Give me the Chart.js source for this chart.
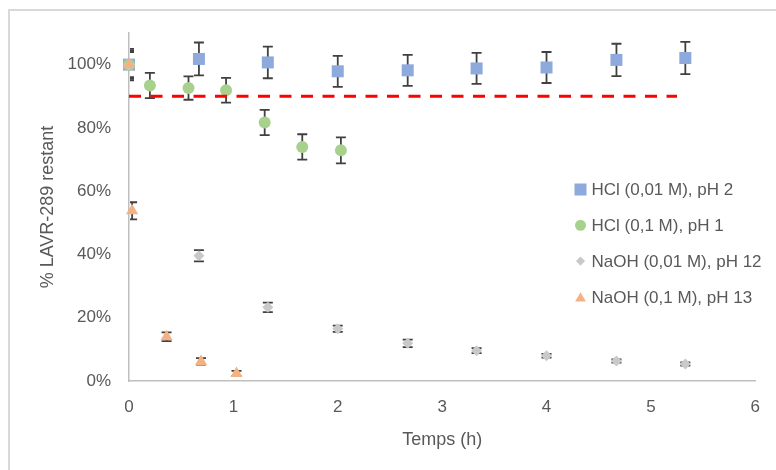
<!DOCTYPE html>
<html><head><meta charset="utf-8">
<script src="https://cdn.jsdelivr.net/npm/chart.js"></script>
<style>
html,body{margin:0;padding:0;background:#fff;overflow:hidden}
#frame{position:absolute;left:8px;top:9px;width:820px;height:520px;border:2px solid #d9d9d9;box-sizing:border-box}
#wrap{position:absolute;left:0;top:0;width:776px;height:470px}
</style></head><body>
<div id="frame"></div>
<div id="wrap"><canvas id="c" width="776" height="470"></canvas></div>
<script>
// ---- data ----
const seriesNames = ['HCl (0,01 M), pH 2', 'HCl (0,1 M), pH 1', 'NaOH (0,01 M), pH 12', 'NaOH (0,1 M), pH 13'];
const xTitle = 'Temps (h)';
const yTitle = '% LAVR-289 restant';

const hcl001X = [0, 0.67, 1.33, 2, 2.67, 3.33, 4, 4.67, 5.33];
const hcl001Y = [100, 101.8, 100.7, 97.9, 98.2, 98.8, 99.1, 101.5, 102.1];
const hcl001Err = [5, 5.2, 5, 4.9, 4.9, 4.9, 4.9, 5.1, 5.1];

const hcl01X = [0, 0.2, 0.57, 0.93, 1.3, 1.66, 2.03];
const hcl01Y = [100, 93.4, 92.6, 91.9, 81.7, 74.0, 72.9];
const hcl01Err = [4, 4, 3.7, 3.9, 4, 4, 4.1];

const naoh001X = [0, 0.67, 1.33, 2, 2.67, 3.33, 4, 4.67, 5.33];
const naoh001Y = [100, 39.6, 23.3, 16.5, 11.9, 9.6, 8.0, 6.3, 5.4];
const naoh001Err = [4.5, 1.8, 1.5, 1.0, 1.2, 0.8, 0.6, 0.5, 0.5];

const naoh01X = [0, 0.03, 0.36, 0.69, 1.03];
const naoh01Y = [100, 53.8, 14.0, 6.2, 2.4];
const naoh01Err = [4, 2.7, 1.4, 1.0, 0.8];

const limitX = [0, 5.25];
const limitY = [90, 90];

const yTicks = [0, 20, 40, 60, 80, 100];

// ---- styles ----
const colors = ['#8eaadc', '#a9d18e', '#c9c9c9', '#f4b183'];
const styles = ['rect', 'circle', 'rectRot', 'triangle'];
const radii = [8.5, 6, 5.5, 7];
const legendRadii = [8.5, 5.5, 4.6, 6.2];
const textColor = '#595959';
const fontFamily = '"Liberation Sans", Arial, sans-serif';

function pts(xs, ys) { return xs.map((x, i) => ({x: x, y: ys[i]})); }

const errSets = [hcl001Err, hcl01Err, naoh001Err, naoh01Err];
const seriesX = [hcl001X, hcl01X, naoh001X, naoh01X];
const seriesY = [hcl001Y, hcl01Y, naoh001Y, naoh01Y];

const datasets = seriesNames.map((name, i) => ({
  type: 'scatter',
  label: name,
  data: pts(seriesX[i], seriesY[i]),
  backgroundColor: colors[i],
  borderWidth: 0,
  pointStyle: styles[i],
  pointRadius: radii[i],
  pointHoverRadius: radii[i],
  clip: false,
  order: 10 - i
}));
datasets.push({
  type: 'line',
  label: 'limit',
  data: pts(limitX, limitY),
  borderColor: '#ff0000',
  borderWidth: 3,
  borderDash: [12, 9.5],
  pointRadius: 0,
  fill: false,
  order: 0
});

const errorBars = {
  id: 'errorBars',
  beforeDatasetsDraw(chart) {
    const {ctx, chartArea: a, scales: {x, y}} = chart;
    ctx.save();
    ctx.beginPath();
    ctx.rect(a.left + 1, a.top - 20, a.right - a.left, a.bottom - a.top + 20);
    ctx.clip();
    ctx.strokeStyle = '#404040';
    ctx.lineWidth = 1.8;
    errSets.forEach((errs, i) => {
      seriesX[i].forEach((xv, j) => {
        const px = x.getPixelForValue(xv);
        const top = y.getPixelForValue(seriesY[i][j] + errs[j]);
        const bot = y.getPixelForValue(seriesY[i][j] - errs[j]);
        ctx.beginPath();
        ctx.moveTo(px, top); ctx.lineTo(px, bot);
        ctx.moveTo(px - 5, top); ctx.lineTo(px + 5, top);
        ctx.moveTo(px - 5, bot); ctx.lineTo(px + 5, bot);
        ctx.stroke();
      });
    });
    ctx.restore();
  }
};

function drawMarker(ctx, style, x, y, r, color) {
  ctx.fillStyle = color;
  ctx.beginPath();
  if (style === 'rect') { const s = r * Math.SQRT1_2; ctx.rect(x - s, y - s, 2 * s, 2 * s); }
  else if (style === 'circle') { ctx.arc(x, y, r, 0, Math.PI * 2); }
  else if (style === 'rectRot') { ctx.moveTo(x, y - r); ctx.lineTo(x + r, y); ctx.lineTo(x, y + r); ctx.lineTo(x - r, y); ctx.closePath(); }
  else if (style === 'triangle') { ctx.moveTo(x, y - r * 0.75); ctx.lineTo(x + r * 0.866, y + r * 0.75); ctx.lineTo(x - r * 0.866, y + r * 0.75); ctx.closePath(); }
  ctx.fill();
}

const customLegend = {
  id: 'customLegend',
  afterDraw(chart) {
    const ctx = chart.ctx;
    ctx.save();
    ctx.font = '17px ' + fontFamily;
    ctx.fillStyle = textColor;
    ctx.textBaseline = 'middle';
    ctx.textAlign = 'left';
    seriesNames.forEach((name, i) => {
      const cy = 189.5 + i * 35.8;
      drawMarker(ctx, styles[i], 580.5, cy, legendRadii[i], colors[i]);
      ctx.fillStyle = textColor;
      ctx.fillText(name, 591.5, cy + 1);
    });
    ctx.restore();
  }
};

new Chart(document.getElementById('c'), {
  data: {datasets: datasets},
  options: {
    responsive: false,
    animation: false,
    events: [],
    layout: {padding: {left: 0, right: 20, top: 33, bottom: 0}},
    plugins: {legend: {display: false}, tooltip: {enabled: false}},
    scales: {
      x: {
        type: 'linear', min: 0, max: 6,
        grid: {display: false, drawTicks: false},
        border: {display: true, color: '#bfbfbf', width: 1.5},
        ticks: {stepSize: 1, padding: 16, color: textColor, font: {size: 17, family: fontFamily}},
        title: {display: true, text: xTitle, color: textColor, font: {size: 18, family: fontFamily}, padding: {top: 0, bottom: 19}},
        afterFit(s) { s.height = 89; }
      },
      y: {
        type: 'linear', min: 0, max: 110,
        grid: {display: false, drawTicks: false},
        border: {display: true, color: '#bfbfbf', width: 1.5},
        afterBuildTicks(s) { s.ticks = yTicks.map(v => ({value: v})); },
        ticks: {padding: 18, color: textColor, font: {size: 17, family: fontFamily}, callback: v => v + '%'},
        title: {display: true, text: yTitle, color: textColor, font: {size: 18, family: fontFamily}, padding: {top: 37, bottom: 0}},
        afterFit(s) { s.width = 129; }
      }
    }
  },
  plugins: [errorBars, customLegend]
});
</script>
</body></html>
